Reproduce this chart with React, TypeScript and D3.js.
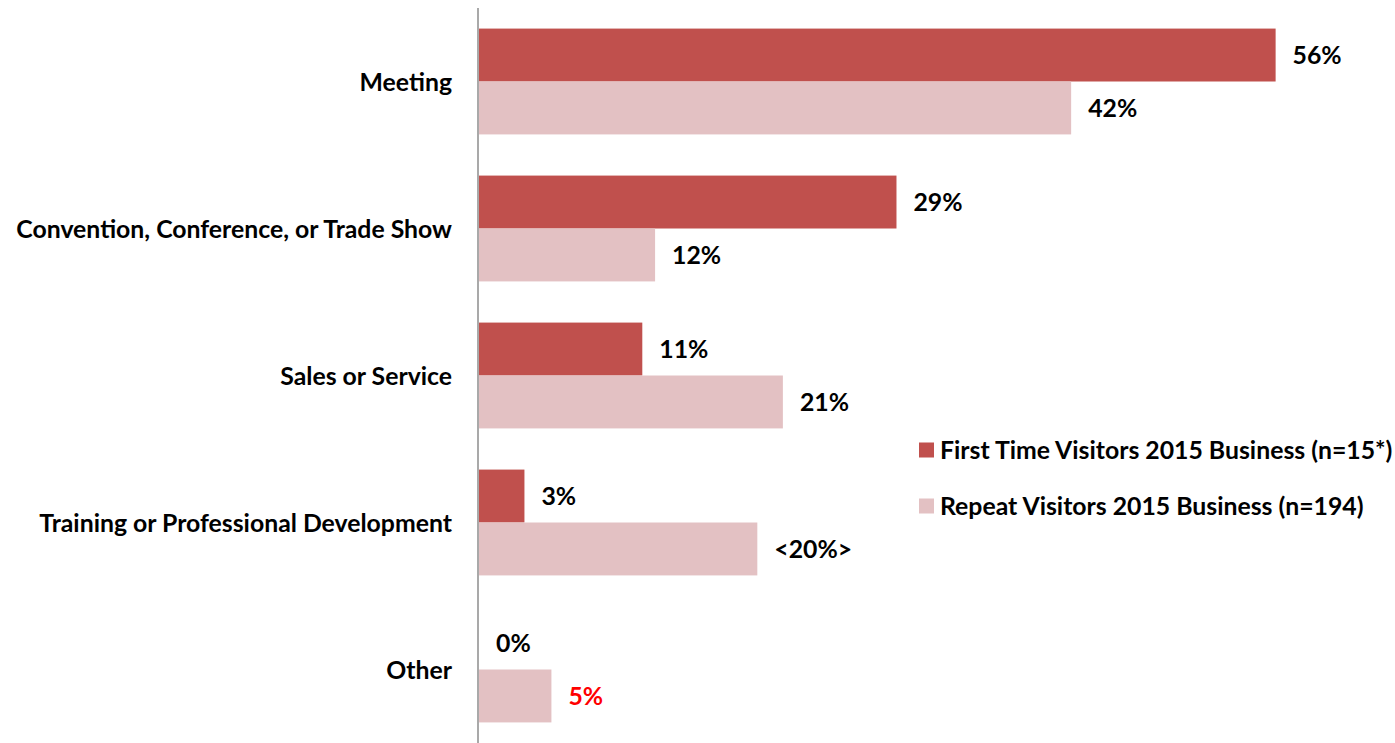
import React from "react";
import * as d3 from "d3";

const categories = [
  "Meeting",
  "Convention, Conference, or Trade Show",
  "Sales or Service",
  "Training or Professional Development",
  "Other",
];
const seriesNames = [
  "First Time Visitors 2015 Business (n=15*)",
  "Repeat Visitors 2015 Business (n=194)",
];
const firstTime = [56.1, 29.4, 11.5, 3.2, 0];
const repeat = [41.7, 12.4, 21.4, 19.6, 5.1];
const firstLabels = ["56%", "29%", "11%", "3%", "0%"];
const repeatLabels = ["42%", "12%", "21%", "<20%>", "5%"];
const repeatLabelColors = ["#000", "#000", "#000", "#000", "#FF0000"];
const colors = ["#C0504D", "#E3C1C3"];

const W = 1395;
const H = 743;
const FONT = "Lato, 'Open Sans', sans-serif";
const FS = 24.8;

export default function App() {
  const x = d3.scaleLinear().domain([0, 60]).range([479, 479 + 60 * 14.2]);
  const y = d3.scaleBand<string>().domain(categories).range([8, 743]).paddingInner(0.28).paddingOuter(0.14);
  const inner = d3.scaleBand<number>().domain([0, 1]).range([0, y.bandwidth()]);
  const series = [firstTime, repeat];
  const labels = [firstLabels, repeatLabels];

  return (
    <svg width={W} height={H} style={{ position: "absolute", left: 0, top: 0, background: "#fff" }}>
      {categories.map((c, i) => (
        <g key={c}>
          {series.map((s, k) => {
            const y0 = (y(c) as number) + (inner(k) as number);
            const h = inner.bandwidth();
            return (
              <g key={k}>
                {s[i] > 0 && (
                  <rect x={x(0)} y={y0} width={x(s[i]) - x(0)} height={h} fill={colors[k]} />
                )}
                <text
                  x={x(s[i]) + 17}
                  y={y0 + h / 2 + 0.5}
                  dy="0.35em"
                  fontFamily={FONT}
                  fontWeight="bold"
                  fontSize={FS}
                  fill={k === 1 ? repeatLabelColors[i] : "#000"}
                >
                  {labels[k][i]}
                </text>
              </g>
            );
          })}
          <text
            x={452}
            y={(y(c) as number) + y.bandwidth() / 2 + 0.5}
            dy="0.35em"
            textAnchor="end"
            fontFamily={FONT}
            fontWeight="bold"
            fontSize={FS}
            fill="#000"
          >
            {c}
          </text>
        </g>
      ))}
      <line x1={478} x2={478} y1={8} y2={743} stroke="#8C8C8C" strokeWidth={1.5} />
      {seriesNames.map((n, k) => (
        <g key={n} transform={`translate(919, ${450 + k * 56})`}>
          <rect x={0} y={-7.5} width={15} height={15} fill={colors[k]} />
          <text x={21} y={0.5} dy="0.35em" fontFamily={FONT} fontWeight="bold" fontSize={FS} fill="#000">
            {n}
          </text>
        </g>
      ))}
    </svg>
  );
}
